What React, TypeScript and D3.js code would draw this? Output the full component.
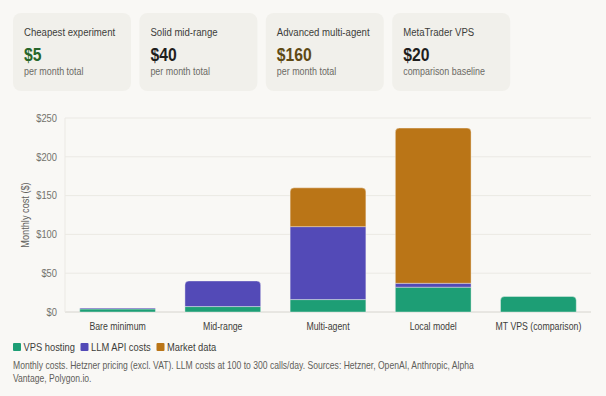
import React from 'react';
import * as d3 from 'd3';

const categories = ['Bare minimum', 'Mid-range', 'Multi-agent', 'Local model', 'MT VPS (comparison)'];
const vpsHosting = [4, 7, 16, 32, 20];
const llmApiCosts = [1, 33, 94, 5, 0];
const marketData = [0, 0, 50, 200, 0];
const seriesNames = ['VPS hosting', 'LLM API costs', 'Market data'];
const seriesColors = ['#1d9e75', '#534ab7', '#ba7517'];
const yTicks = [0, 50, 100, 150, 200, 250];

const cardTitles = ['Cheapest experiment', 'Solid mid-range', 'Advanced multi-agent', 'MetaTrader VPS'];
const cardValues = ['$5', '$40', '$160', '$20'];
const cardNotes = ['per month total', 'per month total', 'per month total', 'comparison baseline'];
const cardColors = ['#27662a', '#1f1e1d', '#5f4a14', '#1f1e1d'];

const footnote = [
  'Monthly costs. Hetzner pricing (excl. VAT). LLM costs at 100 to 300 calls/day. Sources: Hetzner, OpenAI, Anthropic, Alpha',
  'Vantage, Polygon.io.',
];

const W = 606;
const H = 396;
const font = '"Liberation Sans", Arial, sans-serif';
const SX = 0.85; // the source font is narrower than Arial

// text squeezed horizontally around its anchor point
function T({ x, y, size, fill, anchor = 'start', weight = 400, rotate = 0, dy, children }: any) {
  return (
    <g transform={`translate(${x},${y}) rotate(${rotate}) scale(${SX},1)`}>
      <text textAnchor={anchor} dy={dy} fontFamily={font} fontSize={size} fontWeight={weight} fill={fill}>{children}</text>
    </g>
  );
}

// rect with only the top corners rounded
function topRounded(x: number, y: number, w: number, h: number, r: number) {
  const rr = Math.min(r, h, w / 2);
  return `M${x},${y + h}V${y + rr}Q${x},${y} ${x + rr},${y}H${x + w - rr}Q${x + w},${y} ${x + w},${y + rr}V${y + h}Z`;
}

export default function App() {
  const x = d3.scaleBand<string>().domain(categories).range([65, 591]).paddingInner(0.28).paddingOuter(0.14);
  const y = d3.scaleLinear().domain([0, 250]).range([312, 118]);

  const rows = categories.map((c, i) => ({ cat: c, vps: vpsHosting[i], llm: llmApiCosts[i], market: marketData[i] }));
  const keys = ['vps', 'llm', 'market'];
  const stacked = d3.stack<any>().keys(keys)(rows);

  // topmost non-zero layer for each bar gets the rounded corners
  const topLayer = rows.map(r => {
    let t = 0;
    keys.forEach((k, j) => { if (r[k] > 0) t = j; });
    return t;
  });

  const cardW = 118;
  const cardStep = 126.4;
  const legendX = [13, 80.5, 156.5];

  return (
    <div style={{ position: 'fixed', left: 0, top: 0 }}>
      <svg width={W} height={H} style={{ display: 'block', background: '#f9f8f5' }}>
        {cardTitles.map((t, i) => {
          const cx = 13 + i * cardStep;
          return (
            <g key={t} transform={`translate(${cx},13)`}>
              <rect width={cardW} height={78} rx={8} fill="#f1f0eb" />
              <T x={11} y={23} size={11.3} fill="#3d3d3a">{t}</T>
              <T x={11} y={48} size={18.5} weight={700} fill={cardColors[i]}>{cardValues[i]}</T>
              <T x={11} y={62} size={10.5} fill="#6b6a65">{cardNotes[i]}</T>
            </g>
          );
        })}

        {yTicks.map(t => (
          <g key={t}>
            <line x1={65} x2={591} y1={y(t)} y2={y(t)} stroke={t === 0 ? '#d6d4ce' : '#ebe9e4'} strokeWidth={1} />
            <T x={57} y={y(t)} dy="0.35em" anchor="end" size={11} fill="#73726c">{'$' + t}</T>
          </g>
        ))}
        <line x1={65} x2={65} y1={y(250)} y2={y(0)} stroke="#ebe9e4" />

        <T x={29} y={(y(0) + y(250)) / 2} rotate={-90} anchor="middle" size={10.8} fill="#5f5e5a">Monthly cost ($)</T>

        {stacked.map((layer, j) => (
          <g key={layer.key}>
            {layer.map((d, i) => {
              const h = y(d[0]) - y(d[1]);
              if (h <= 0) return null;
              const bx = x(categories[i]) as number;
              const bw = x.bandwidth();
              const path = topLayer[i] === j
                ? topRounded(bx, y(d[1]), bw, h, 4)
                : `M${bx},${y(d[1])}h${bw}v${h}h${-bw}Z`;
              return <path key={i} d={path} fill={seriesColors[j]} stroke="#f9f8f5" strokeOpacity={0.5} strokeWidth={0.8} />;
            })}
          </g>
        ))}

        {categories.map(c => (
          <T key={c} x={(x(c) as number) + x.bandwidth() / 2} y={330} anchor="middle" size={10.3} fill="#3d3d3a">{c}</T>
        ))}

        {seriesNames.map((s, i) => (
          <g key={s} transform={`translate(${legendX[i]},343)`}>
            <rect width={8} height={8} rx={1} fill={seriesColors[i]} />
            <T x={10.5} y={8} size={11} fill="#3d3d3a">{s}</T>
          </g>
        ))}

        {footnote.map((line, i) => (
          <T key={i} x={13} y={369 + i * 12.5} size={10.1} fill="#5f5e5a">{line}</T>
        ))}
      </svg>
    </div>
  );
}
